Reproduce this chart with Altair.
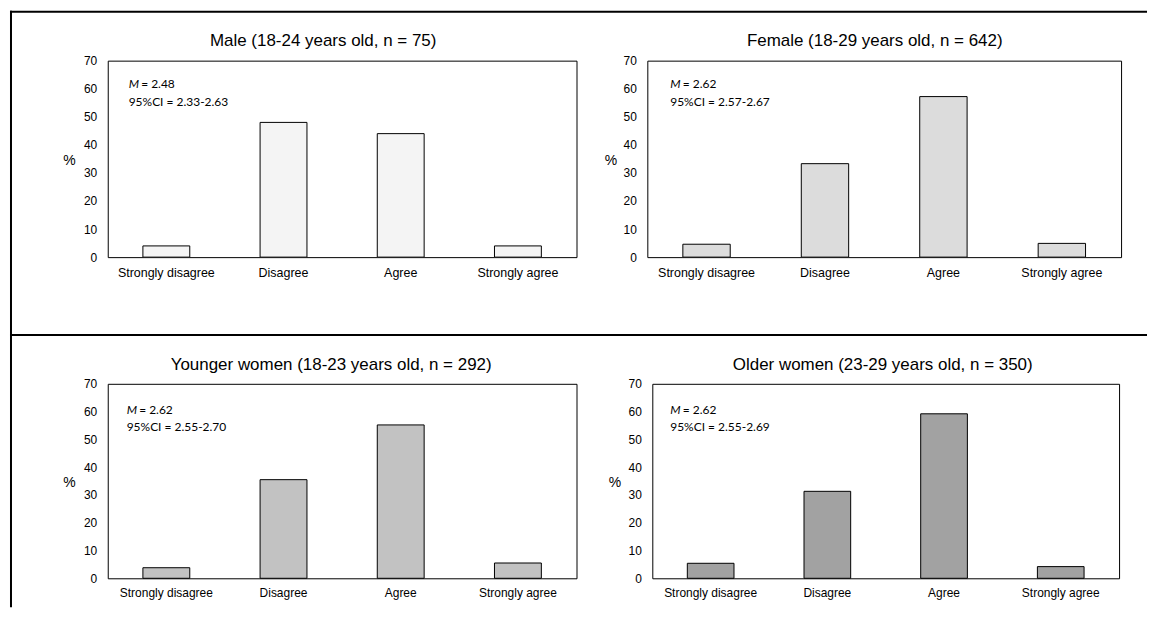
import altair as alt
import pandas as pd

categories = ["Strongly disagree", "Disagree", "Agree", "Strongly agree"]
male_pct = [4.0, 48.0, 44.0, 4.0]
female_pct = [4.6, 33.3, 57.2, 4.9]
younger_pct = [3.8, 35.5, 55.2, 5.5]
older_pct = [5.4, 31.3, 59.2, 4.2]

titles = [
    "Male (18-24 years old, n = 75)",
    "Female (18-29 years old, n = 642)",
    "Younger women (18-23 years old, n = 292)",
    "Older women (23-29 years old, n = 350)",
]
mean_texts = ["= 2.48", "= 2.62", "= 2.62", "= 2.62"]
ci_texts = ["95%CI = 2.33-2.63", "95%CI = 2.57-2.67", "95%CI = 2.55-2.70", "95%CI = 2.55-2.69"]
y_ticks = [0, 10, 20, 30, 40, 50, 60, 70]

fills = ["#f4f4f4", "#dcdcdc", "#c2c2c2", "#a2a2a2"]
widths = [470, 475, 470, 468]
heights = [197, 197, 195, 195]
title_pos = [(216, -20), (228, -20), (224, -19), (231, -19)]
ann_pos = [(21, 23, 41), (23, 23, 41), (19, 26, 43.5), (18, 26, 43.5)]
pct_pos = [(-39, 100), (-37, 100), (-39, 99), (-38, 99)]
xlab_size = [12.5, 12.5, 12, 12]

series = [male_pct, female_pct, younger_pct, older_pct]


def text_layer(txt, x, y, **kw):
    return alt.Chart(pd.DataFrame({"t": [txt]})).mark_text(**kw).encode(
        x=alt.value(x), y=alt.value(y), text="t:N"
    )


def panel(i, frame=False):
    df = pd.DataFrame({"response": categories, "pct": series[i]})
    w, h = widths[i], heights[i]
    bars = alt.Chart(df).mark_bar(fill=fills[i], stroke="black", strokeWidth=1).encode(
        x=alt.X(
            "response:N",
            sort=categories,
            scale=alt.Scale(paddingInner=0.6, paddingOuter=0.3),
            axis=alt.Axis(
                title=None, labelAngle=0, ticks=False, tickSize=0, domain=False,
                labelPadding=9, labelFontSize=xlab_size[i], labelFont="Liberation Sans",
                labelColor="black", labelBaseline="top",
            ),
        ),
        y=alt.Y(
            "pct:Q",
            scale=alt.Scale(domain=[0, 70], nice=False),
            axis=alt.Axis(
                values=y_ticks, grid=False, ticks=False, tickSize=0, domain=False,
                labelPadding=11, labelFontSize=12, labelFont="Liberation Sans",
                labelColor="black",
                title="%", titleAngle=0, titleX=pct_pos[i][0], titleY=pct_pos[i][1],
                titleAlign="center", titleBaseline="middle", titleFontSize=14,
                titleFont="Liberation Sans", titleFontWeight="normal", titleColor="black",
            ),
        ),
    )
    tx, ty = title_pos[i]
    ax, ay1, ay2 = ann_pos[i]
    layers = [
        bars,
        text_layer(titles[i], tx, ty, font="Liberation Sans", fontSize=17,
                   align="center", baseline="middle", color="black"),
        text_layer("M", ax, ay1, font="Lato", fontSize=12, fontStyle="italic",
                   align="left", baseline="middle", color="black"),
        text_layer(mean_texts[i], ax + 12.5, ay1, font="Lato", fontSize=12,
                   align="left", baseline="middle", color="black"),
        text_layer(ci_texts[i], ax, ay2, font="Lato", fontSize=12,
                   align="left", baseline="middle", color="black"),
    ]
    if frame:
        one = pd.DataFrame({"k": [0]})
        base = alt.Chart(one).mark_rule(color="black", strokeWidth=2)
        layers += [
            base.encode(x=alt.value(-98), x2=alt.value(1042), y=alt.value(-49)),
            base.encode(x=alt.value(-97), y=alt.value(-50), y2=alt.value(548)),
            base.encode(x=alt.value(-98), x2=alt.value(1042), y=alt.value(275)),
        ]
    return alt.layer(*layers).properties(width=w, height=h)


row1 = alt.hconcat(panel(0, frame=True), panel(1), spacing=71, bounds="flush")
row2 = alt.hconcat(panel(2), panel(3), spacing=76, bounds="flush")

chart = (
    alt.vconcat(row1, row2, spacing=324, bounds="flush")
    .properties(padding={"left": 0, "top": 0, "right": 0, "bottom": 0}, background="white")
    .configure_view(stroke="black", strokeWidth=1)
)

chart.save("out.html", embed_options={"renderer": "svg", "actions": False})
